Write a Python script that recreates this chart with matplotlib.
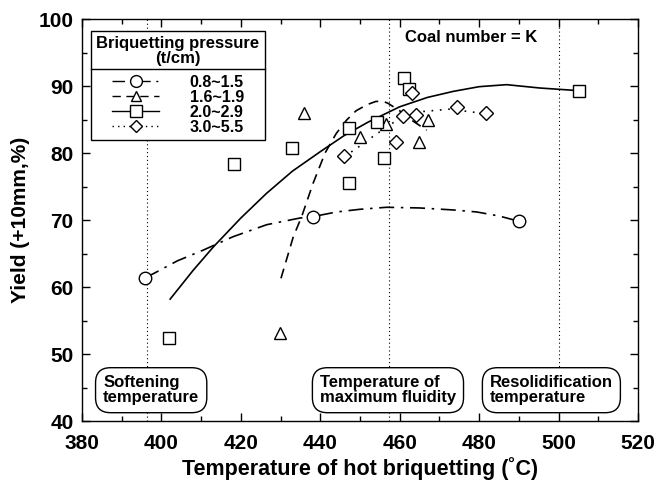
import numpy as np
import matplotlib
matplotlib.use('Agg')
import matplotlib.pyplot as plt
from matplotlib.lines import Line2D
from matplotlib.transforms import IdentityTransform
from matplotlib.ticker import MultipleLocator

plt.rcParams['font.family'] = ['Liberation Sans', 'DejaVu Sans']
plt.rcParams['font.weight'] = 'bold'

# measured points
circle_x = [395.9, 438.1, 490.1]
circle_y = [61.4, 70.5, 69.8]
tri_x = [429.9, 435.9, 450.1, 456.5, 464.9, 467.0]
tri_y = [53.1, 85.9, 82.4, 84.4, 81.7, 85.0]
sq_x = [402.0, 418.3, 433.0, 447.2, 447.2, 454.2, 456.0, 461.1, 462.3, 505.2]
sq_y = [52.4, 78.3, 80.7, 83.7, 75.5, 84.6, 79.2, 91.2, 89.6, 89.3]
dia_x = [446.0, 459.1, 460.8, 463.0, 464.0, 474.5, 481.6]
dia_y = [79.5, 81.6, 85.5, 88.9, 85.7, 86.8, 85.9]

# trend curves
circ_curve_x = [395.9, 398, 404, 410.5, 418, 426.5, 434.9, 438.1, 444.1, 450, 456.7, 465, 473.5, 479.4, 485, 490.1]
circ_curve_y = [61.4, 62.0, 63.9, 65.5, 67.5, 69.3, 70.3, 70.5, 71.2, 71.6, 71.9, 71.8, 71.5, 71.2, 70.6, 69.8]
tri_curve_x = [430.1, 433.2, 435.3, 438.2, 441.2, 444.0, 446.6, 449.0, 451.7, 454.0, 455.9, 457.1, 460.0, 463.0, 466.8]
tri_curve_y = [61.3, 67.5, 70.5, 75.5, 80.0, 82.9, 84.9, 86.3, 87.2, 87.7, 87.7, 87.4, 86.3, 84.9, 83.4]
sq_curve_x = [402.2, 408, 413.1, 420, 426.5, 433, 440, 446, 452, 460, 467, 473.5, 480, 486.9, 495.3, 505.2]
sq_curve_y = [58.2, 62.5, 66.0, 70.3, 74.0, 77.3, 80.2, 82.6, 84.6, 86.9, 88.3, 89.2, 89.9, 90.2, 89.7, 89.3]
dia_curve_x = [446.0, 448.7, 453.8, 458.8, 466.0, 473.5, 476.9, 481.6]
dia_curve_y = [79.5, 80.5, 82.7, 84.7, 86.2, 86.6, 86.2, 85.9]

labels = ['0.8~1.5', '1.6~1.9', '2.0~2.9', '3.0~5.5']
vlines = [396.4, 457.3, 500.0]

fig = plt.figure(figsize=(6.56, 4.86), dpi=100)
ax = fig.add_axes([0.125, 0.1337, 0.8476, 0.8272])

mk = dict(mfc='white', mec='black', mew=1.0, color='black', linestyle='none')
ln = dict(color='black', lw=1.2)

for v in vlines:
    ax.axvline(v, color='black', lw=0.8, linestyle=(0, (1, 2.5)), zorder=1)

ax.plot(circ_curve_x, circ_curve_y, linestyle=(0, (9, 4, 1.5, 4)), **ln)
ax.plot(tri_curve_x, tri_curve_y, linestyle=(0, (6, 4)), **ln)
ax.plot(sq_curve_x, sq_curve_y, linestyle='-', **ln)
ax.plot(dia_curve_x, dia_curve_y, linestyle=(0, (1, 4)), **ln)

ax.plot(circle_x, circle_y, marker='o', ms=9, zorder=5, **mk)
ax.plot(tri_x, tri_y, marker='^', ms=8, zorder=5, **mk)
ax.plot(sq_x, sq_y, marker='s', ms=9, zorder=5, **mk)
ax.plot(dia_x, dia_y, marker='D', ms=7, zorder=5, **mk)

ax.set_xlim(380, 520)
ax.set_ylim(40, 100)
ax.xaxis.set_major_locator(MultipleLocator(20))
ax.xaxis.set_minor_locator(MultipleLocator(10))
ax.yaxis.set_major_locator(MultipleLocator(10))
ax.yaxis.set_minor_locator(MultipleLocator(5))
ax.tick_params(which='both', direction='in', top=True, right=True, labelsize=15)
ax.tick_params(which='major', length=6, width=1)
ax.tick_params(which='minor', length=3.5, width=1)
ax.tick_params(axis='x', which='major', pad=9)
ax.tick_params(axis='y', which='major', pad=6)
for lab in ax.get_xticklabels() + ax.get_yticklabels():
    lab.set_fontweight('bold')
for s in ax.spines.values():
    s.set_linewidth(1.0)

ax.set_xlabel('Temperature of hot briquetting (˚C)', fontsize=15.5, fontweight='bold', labelpad=3)
ax.set_ylabel('Yield (+10mm,%)', fontsize=15, fontweight='bold', labelpad=6)

ax.text(478, 97.3, 'Coal number = K', fontsize=12, fontweight='bold', ha='center', va='center')

box = dict(boxstyle='round,pad=0.45,rounding_size=0.9', fc='white', ec='black', lw=1.0)
ax.text(385.3, 44.6, 'Softening\ntemperature', fontsize=12, fontweight='bold',
        ha='left', va='center', linespacing=1.0, bbox=box, zorder=6)
ax.text(439.9, 44.6, 'Temperature of\nmaximum fluidity', fontsize=12, fontweight='bold',
        ha='left', va='center', linespacing=1.0, bbox=box, zorder=6)
ax.text(482.7, 44.6, 'Resolidification\ntemperature', fontsize=12, fontweight='bold',
        ha='left', va='center', linespacing=1.0, bbox=box, zorder=6)

handles = [
    Line2D([], [], marker='o', ms=8.5, mfc='white', mec='black', color='black', lw=1.0, linestyle=(0, (9, 4, 1.5, 4))),
    Line2D([], [], marker='^', ms=7.5, mfc='white', mec='black', color='black', lw=1.0, linestyle=(0, (6, 4))),
    Line2D([], [], marker='s', ms=8.5, mfc='white', mec='black', color='black', lw=1.0, linestyle='-'),
    Line2D([], [], marker='D', ms=6.5, mfc='white', mec='black', color='black', lw=1.0, linestyle=(0, (1, 3))),
]
leg = ax.legend(handles, labels, title='Briquetting pressure\n(t/cm)', loc='upper left',
                bbox_to_anchor=(0.0156, 0.971), borderaxespad=0, fancybox=False,
                framealpha=1, edgecolor='black', numpoints=1, handlelength=3.0,
                handletextpad=1.9, labelspacing=0.0, borderpad=0.35, alignment='center',
                prop={'size': 11.5, 'weight': 'bold'}, title_fontproperties={'size': 12, 'weight': 'bold'})
leg.get_frame().set_linewidth(1.0)
leg.get_title().set_multialignment('center')
leg.get_title().set_linespacing(1.0)
leg.set_zorder(10)
leg._legend_box.sep = 6

fig.canvas.draw()
r = fig.canvas.get_renderer()
tb = leg.get_title().get_window_extent(r)
fb = leg.get_frame().get_window_extent(r)
ysep = tb.y0 - 3
fig.add_artist(Line2D([fb.x0, fb.x1], [ysep, ysep], transform=IdentityTransform(), color='black', lw=1.0, zorder=11))

fig.savefig('out.png', dpi=100)
